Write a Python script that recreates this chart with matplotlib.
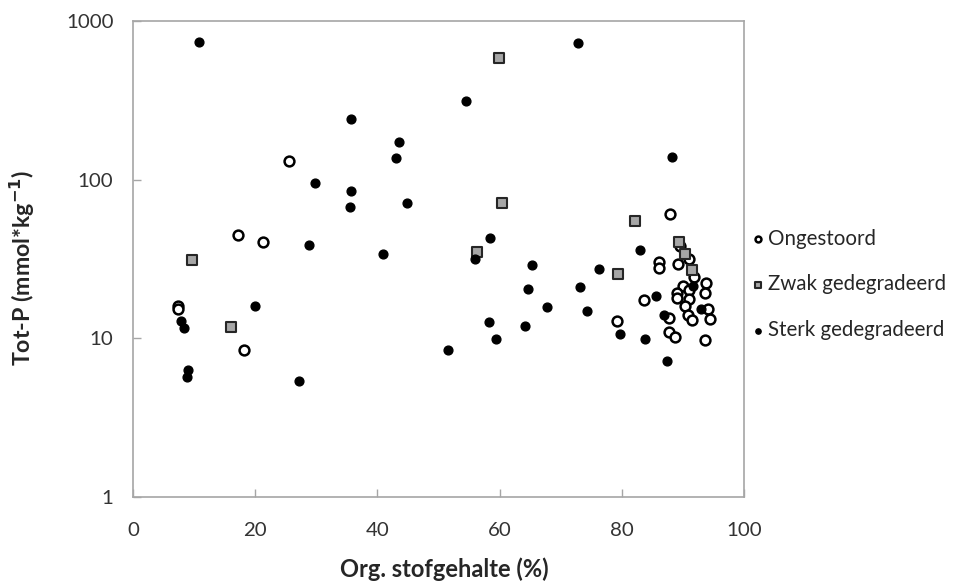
import matplotlib
matplotlib.use('Agg')
import matplotlib.pyplot as plt
from matplotlib.ticker import FixedLocator, FixedFormatter, NullLocator

plt.rcParams['font.family'] = ['Lato', 'DejaVu Sans']

# Ongestoord (open circles)
ong_x = [25.6, 17.2, 21.3, 7.3, 7.3, 18.1, 87.8, 86.1, 86.0, 89.1, 91.0, 89.5,
         91.7, 93.8, 93.6, 89.9, 90.9, 89.0, 89.0, 91.0, 90.3, 83.5, 94.0, 94.3,
         90.7, 91.5, 87.7, 79.1, 87.6, 88.7, 93.6]
ong_y = [132, 44.7, 40.3, 15.9, 15.2, 8.4, 60.5, 30.5, 27.8, 29.3, 31.7, 38.4,
         24.4, 22.4, 19.2, 21.5, 20.3, 19.2, 18.0, 17.6, 16.0, 17.4, 15.2, 13.3,
         14.0, 13.0, 13.5, 12.8, 10.9, 10.2, 9.7]

# Zwak gedegradeerd (grey squares)
zwak_x = [9.7, 16.1, 59.9, 60.4, 56.3, 82.1, 79.4, 89.3, 90.3, 91.5]
zwak_y = [31, 11.8, 588, 71.3, 35.1, 54.7, 25.6, 40.6, 34.1, 27.1]

# Sterk gedegradeerd (filled circles)
sterk_x = [10.8, 35.7, 43.5, 43.1, 29.7, 35.7, 35.5, 44.8, 28.8, 40.9, 19.9,
           7.8, 8.4, 9.0, 8.8, 27.1, 51.6, 72.8, 54.5, 88.2, 58.4, 55.9, 82.9,
           65.2, 76.3, 64.6, 73.1, 91.6, 85.6, 67.8, 74.2, 92.9, 58.2, 64.2,
           86.8, 59.4, 79.7, 83.7, 87.4]
sterk_y = [738, 241, 173, 137, 95, 85, 67, 71, 38.5, 34, 16.1,
           12.8, 11.6, 6.3, 5.7, 5.4, 8.4, 727, 314, 140, 42.6, 31.5, 36.3,
           29, 27.3, 20.6, 21.2, 21.3, 18.4, 15.8, 14.8, 15.4, 12.6, 12.0,
           14.0, 9.96, 10.6, 9.96, 7.2]

x_ticks = [0, 20, 40, 60, 80, 100]
y_ticks = [1, 10, 100, 1000]

fig = plt.figure(figsize=(9.63, 5.88), dpi=100)
ax = fig.add_axes([0.138, 0.155, 0.635, 0.809])

ax.scatter(ong_x, ong_y, s=50, facecolor='white', edgecolor='black',
           linewidth=1.8, label='Ongestoord', zorder=3)
ax.scatter(zwak_x, zwak_y, s=62, marker='s', facecolor='#a6a6a6',
           edgecolor='#262626', linewidth=1.5, label='Zwak gedegradeerd', zorder=3)
ax.scatter(sterk_x, sterk_y, s=40, color='black', label='Sterk gedegradeerd',
           zorder=3)

ax.set_yscale('log')
ax.set_xlim(0, 100)
ax.set_ylim(1, 1000)
ax.xaxis.set_major_locator(FixedLocator(x_ticks))
ax.yaxis.set_major_locator(FixedLocator(y_ticks))
ax.yaxis.set_major_formatter(FixedFormatter([str(v) for v in y_ticks]))
ax.yaxis.set_minor_locator(NullLocator())

for s in ax.spines.values():
    s.set_color('#a6a6a6')
    s.set_linewidth(1.2)
ax.tick_params(direction='in', length=6, width=1, color='#a6a6a6',
               labelsize=14.7, labelcolor='#333333')
ax.tick_params(axis='y', pad=14)
ax.tick_params(axis='x', pad=18)

ax.set_xlabel('Org. stofgehalte (%)', fontsize=17, fontweight='bold',
              color='#262626')
ax.set_ylabel('Tot-P (mmol*kg$^{\\mathbf{-1}}$)', fontsize=16.7,
              fontweight='bold', color='#262626')
ax.xaxis.set_label_coords(0.509, -0.128)
ax.yaxis.set_label_coords(-0.157, 0.481)

leg = ax.legend(loc='center left', bbox_to_anchor=(0.995, 0.447), frameon=False,
                fontsize=14.8, labelspacing=1.25, handletextpad=0.1,
                markerscale=0.6, borderaxespad=0.0, handlelength=0.8)
for t in leg.get_texts():
    t.set_color('#262626')

fig.savefig('out.png', dpi=100)
